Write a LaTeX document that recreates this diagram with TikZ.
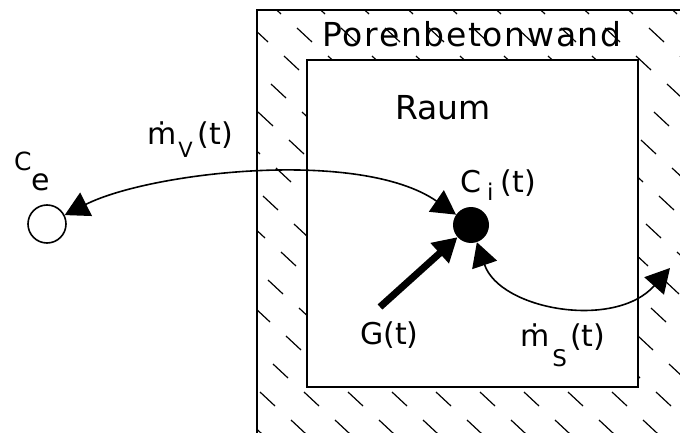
\documentclass[tikz,border=0pt]{standalone}
\usepackage{fontspec}
\setmainfont{DejaVu Sans}
\usetikzlibrary{arrows.meta}
\begin{document}
\begin{tikzpicture}[x=1pt,y=-1pt,
  lbl/.style={inner sep=0pt, anchor=base west, font=\fontsize{30}{32}\selectfont},
  big/.style={inner sep=0pt, anchor=base, font=\fontsize{33}{35}\selectfont},
  wall/.style={line width=2pt},
  hatchline/.style={line width=1.2pt},
  flow/.style={line width=1.6pt, {Triangle[length=24pt,width=26pt]}-{Triangle[length=24pt,width=26pt]}},
  source/.style={line width=7pt, -{Triangle[length=24pt,width=26pt]}}
]
\fill[white] (0,0) rectangle (680,433);
\useasboundingbox (0,0) rectangle (680,433);
% hatching of the wall
\begin{scope}
  \clip (257,10) rectangle (680,433);
  \foreach \m in {-14,...,2} {
    \foreach \n in {-10,...,20} {
      \draw[hatchline] ({392+31*\m+44*\n},{392+28*\m}) -- ++(15,14);
    }
  }
\end{scope}
\fill[white] (307,60) rectangle (638,387);
\draw[wall] (257,433) -- (257,10) -- (680,10);
\draw[wall] (307,60) rectangle (638,387);

% labels
\node[big] (wand) at (472,47) {\addfontfeature{LetterSpace=5}Porenbetonwand};
\node[big] (raum) at (443,120) {Raum};
\node[lbl] (mvl) at (147,145) {ṁ\hspace{2pt}\raisebox{-13pt}{\fontsize{21}{21}\selectfont V}\hspace{5pt}(t)};
\node[lbl] (cel) at (14,171) {{\fontsize{25}{26}\selectfont C}\raisebox{-20pt}{e}};
\node[lbl] (cil) at (460,193) {C\hspace{6pt}\raisebox{-7pt}{\fontsize{23}{23}\selectfont i}\hspace{7pt}(t)};
\node[lbl] (gl) at (360,344) {G(t)};
\node[lbl] (msl) at (520,346) {ṁ\hspace{3pt}\raisebox{-20pt}{\fontsize{23}{23}\selectfont S}\hspace{3pt}(t)};

% concentrations
\node[circle, draw, line width=1.6pt, minimum size=38pt, inner sep=0pt] (ce) at (47,224) {};
\node[circle, fill=black, minimum size=36pt, inner sep=0pt] (ci) at (471,225) {};

% flows
\coordinate (gs) at (380,307);
\coordinate (mse) at (670,268);
\draw[flow] (ce) .. controls (150,172) and (360,148) .. (ci);
\draw[source] (gs) -- (ci);
\draw[flow] (ci) .. controls (500,310) and (615,330) .. (mse);
\end{tikzpicture}
\end{document}
